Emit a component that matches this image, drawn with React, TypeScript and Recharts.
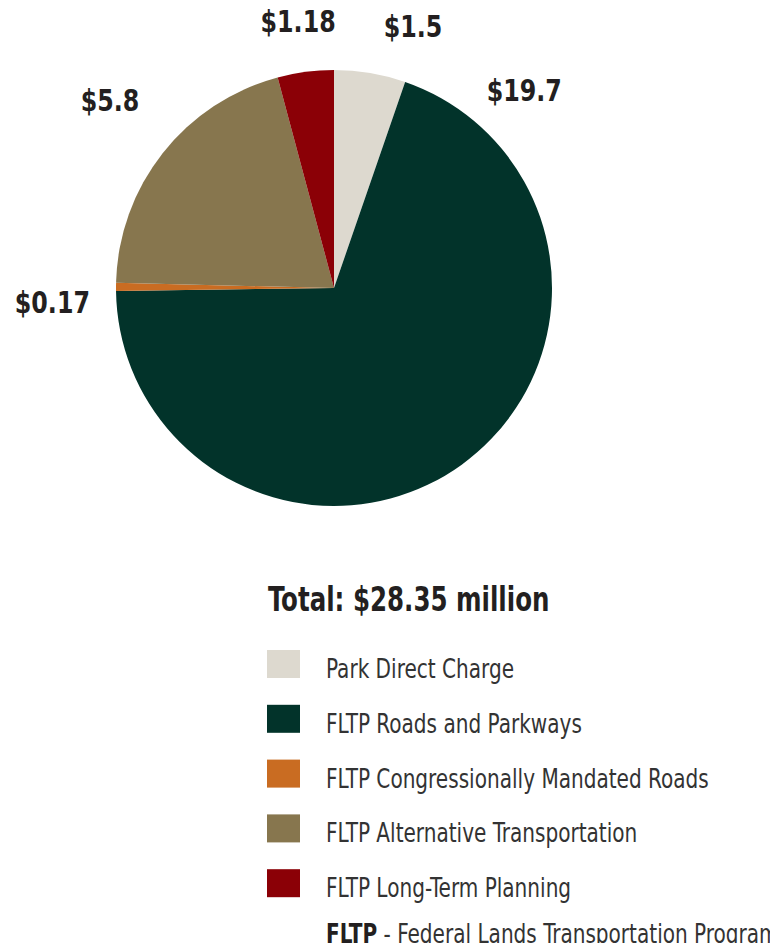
import React from 'react';
import { PieChart, Pie, Cell } from 'recharts';

const categories = [
  'Park Direct Charge',
  'FLTP Roads and Parkways',
  'FLTP Congressionally Mandated Roads',
  'FLTP Alternative Transportation',
  'FLTP Long-Term Planning',
];
const amounts = [1.5, 19.7, 0.17, 5.8, 1.18];
const valueLabels = ['$1.5', '$19.7', '$0.17', '$5.8', '$1.18'];
const colors = ['#DDD9CF', '#02332A', '#C96C22', '#87764E', '#8B0006'];
const totalLabel = 'Total: $28.35 million';
const footnoteAbbr = 'FLTP';
const footnoteText = ' - Federal Lands Transportation Program';

const data = categories.map((name, i) => ({ name, value: amounts[i], label: valueLabels[i] }));

const FONT = "'DejaVu Sans Condensed', 'DejaVu Sans', sans-serif";

// label placement tweaks (angle shift from slice mid-angle, or fixed angle; radial gap)
const labelPlacement: { shift?: number; angle?: number; gap: number }[] = [
  { shift: -7.3, gap: 55 },
  { angle: 46, gap: 56 },
  { shift: 3.3, gap: 64 },
  { shift: -1.7, gap: 74 },
  { shift: 0.2, gap: 50 },
];

const renderLabel = (props: any) => {
  const { cx, cy, midAngle, outerRadius, index } = props;
  const p = labelPlacement[index];
  const ang = p.angle !== undefined ? p.angle : midAngle + (p.shift || 0);
  const r = outerRadius + p.gap;
  const rad = Math.PI / 180;
  const x = cx + r * Math.cos(-ang * rad);
  const y = cy + r * Math.sin(-ang * rad);
  return (
    <g key={`lbl-${index}`} transform={`translate(${x},${y}) scale(0.88,1)`}>
      <text
        x={0}
        y={0}
        textAnchor="middle"
        dominantBaseline="central"
        fontFamily={FONT}
        fontWeight="bold"
        fontSize={30}
        fill="#231F20"
      >
        {data[index].label}
      </text>
    </g>
  );
};

export default function App() {
  return (
    <div style={{ position: 'relative', width: 778, height: 951, margin: -8, background: '#fff' }}>
      <PieChart width={778} height={951} margin={{ top: 0, right: 0, bottom: 0, left: 0 }}>
        <Pie
          data={data}
          dataKey="value"
          nameKey="name"
          cx={334}
          cy={288}
          outerRadius={218}
          startAngle={90}
          endAngle={-270}
          stroke="none"
          label={renderLabel}
          labelLine={false}
          isAnimationActive={false}
        >
          {data.map((d, i) => (
            <Cell key={d.name} fill={colors[i]} />
          ))}
        </Pie>
      </PieChart>
      <svg
        width={778}
        height={951}
        style={{ position: 'absolute', left: 0, top: 0, pointerEvents: 'none' }}
      >
        <g transform="translate(268,611) scale(0.826,1)">
          <text x={0} y={0} fontFamily={FONT} fontWeight="bold" fontSize={33} fill="#231F20">
            {totalLabel}
          </text>
        </g>
        {categories.map((c, i) => {
          const top = 650 + i * 54.8;
          return (
            <g key={c}>
              <rect x={267} y={top} width={33} height={28} fill={colors[i]} />
              <g transform={`translate(326,${top + 28}) scale(0.842,1)`}>
                <text x={0} y={0} fontFamily={FONT} fontSize={26.5} fill="#333333">
                  {c}
                </text>
              </g>
            </g>
          );
        })}
        <g transform="translate(326,943) scale(0.842,1)">
          <text x={0} y={0} fontFamily={FONT} fontSize={26.5} fill="#333333">
            <tspan fontWeight="bold" fill="#231F20">{footnoteAbbr}</tspan>
            <tspan>{footnoteText}</tspan>
          </text>
        </g>
      </svg>
    </div>
  );
}
